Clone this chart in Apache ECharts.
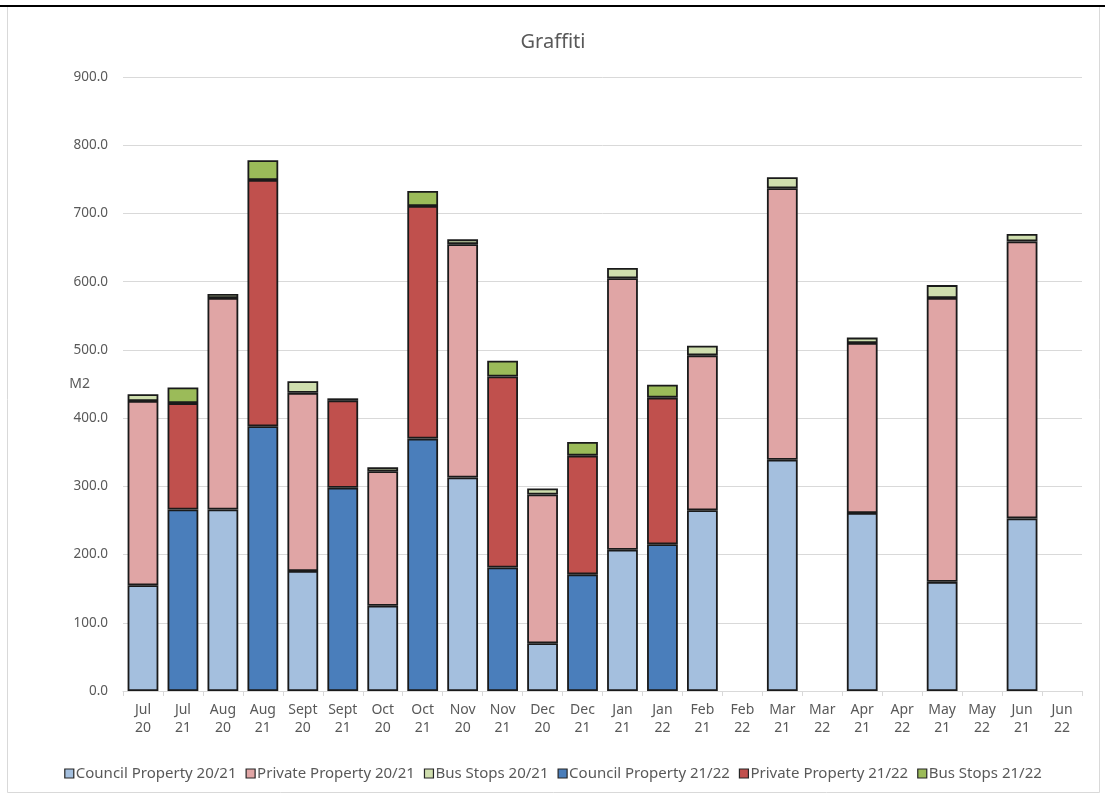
<!DOCTYPE html>
<html>
<head>
<meta charset="utf-8">
<title>Graffiti</title>
<script src="https://cdn.jsdelivr.net/npm/echarts@6/dist/echarts.min.js"></script>
<style>
  html, body { margin: 0; padding: 0; background: #ffffff; }
  #chart { width: 1106px; height: 796px; }
</style>
</head>
<body>
<div id="chart"></div>
<script>
// Months, paired by year (20/21 then 21/22)
const categories = ['Jul\n20','Jul\n21','Aug\n20','Aug\n21','Sept\n20','Sept\n21','Oct\n20','Oct\n21',
  'Nov\n20','Nov\n21','Dec\n20','Dec\n21','Jan\n21','Jan\n22','Feb\n21','Feb\n22','Mar\n21','Mar\n22',
  'Apr\n21','Apr\n22','May\n21','May\n22','Jun\n21','Jun\n22'];

// Area cleaned (M2)
const council2021 = [155,null,266,null,176,null,125,null,313,null,70,null,207,null,265,null,339,null,261,null,160,null,253,null];
const private2021 = [270,null,310,null,261,null,197,null,342,null,218,null,398,null,227,null,398,null,249,null,416,null,406,null];
const busStops2021 = [10,null,6,null,17,null,6,null,7,null,9,null,15,null,14,null,16,null,8,null,19,null,11,null];
const council2122 = [null,266,null,388,null,298,null,370,null,181,null,171,null,215,null,null,null,null,null,null,null,null,null,null];
const private2122 = [null,156,null,361,null,128,null,341,null,280,null,174,null,215,null,null,null,null,null,null,null,null,null,null];
const busStops2122 = [null,23,null,29,null,3,null,22,null,23,null,20,null,19,null,null,null,null,null,null,null,null,null,null];

const yTicks = { min: 0, max: 900, interval: 100 };

const seriesDefs = [
  { name: 'Council Property 20/21', data: council2021, color: '#A4BFDE' },
  { name: 'Private Property 20/21', data: private2021, color: '#E0A5A5' },
  { name: 'Bus Stops 20/21', data: busStops2021, color: '#CFDEAE' },
  { name: 'Council Property 21/22', data: council2122, color: '#4A7EBB' },
  { name: 'Private Property 21/22', data: private2122, color: '#C0504D' },
  { name: 'Bus Stops 21/22', data: busStops2122, color: '#9BBB59' }
];

const textColor = '#595959';
const fontFamily = '"Noto Sans", "Open Sans", sans-serif';

const chart = echarts.init(document.getElementById('chart'), null, { renderer: 'canvas' });

chart.setOption({
  backgroundColor: '#ffffff',
  animation: false,
  textStyle: { fontFamily: fontFamily, color: textColor },
  title: {
    text: 'Graffiti',
    left: 'center',
    top: 27,
    textStyle: { fontFamily: fontFamily, fontSize: 20, fontWeight: 'normal', color: textColor }
  },
  legend: {
    top: 761,
    left: 'center',
    itemWidth: 9,
    itemHeight: 9,
    itemGap: 9,
    icon: 'rect',
    textStyle: { fontFamily: fontFamily, fontSize: 15, color: textColor, padding: [0, 0, 0, -3] },
    itemStyle: { borderColor: '#262626', borderWidth: 1.2 }
  },
  grid: { left: 123, right: 24, top: 77, bottom: 105, containLabel: false },
  xAxis: {
    type: 'category',
    data: categories,
    axisLine: { lineStyle: { color: '#D9D9D9', width: 1 } },
    axisTick: { show: true, length: 5, lineStyle: { color: '#D9D9D9' } },
    axisLabel: { color: textColor, fontSize: 14, lineHeight: 18, margin: 10, interval: 0 }
  },
  yAxis: {
    type: 'value',
    min: yTicks.min,
    max: yTicks.max,
    interval: yTicks.interval,
    name: 'M2',
    nameLocation: 'middle',
    nameRotate: 0,
    nameGap: 33,
    nameMoveOverlap: false,
    nameTextStyle: { color: textColor, fontSize: 14, fontFamily: fontFamily },
    axisLine: { show: false },
    axisTick: { show: false },
    axisLabel: { color: textColor, fontSize: 13.5, margin: 15, formatter: v => v.toFixed(1) },
    splitLine: { lineStyle: { color: '#D9D9D9', width: 1 } }
  },
  series: seriesDefs.map(s => ({
    name: s.name,
    type: 'bar',
    stack: 'total',
    data: s.data,
    barCategoryGap: '23%',
    itemStyle: { color: s.color, borderColor: '#1A1A1A', borderWidth: 1.8 },
    emphasis: { disabled: true }
  })),
  graphic: [
    {
      type: 'rect',
      shape: { x: 7.5, y: 6.5, width: 1092, height: 786 },
      style: { fill: 'none', stroke: '#D9D9D9', lineWidth: 1 },
      silent: true, z: -1
    },
    {
      type: 'line',
      shape: { x1: 0, y1: 6, x2: 1105, y2: 6 },
      style: { stroke: '#000000', lineWidth: 2 },
      silent: true
    }
  ]
});
</script>
</body>
</html>
